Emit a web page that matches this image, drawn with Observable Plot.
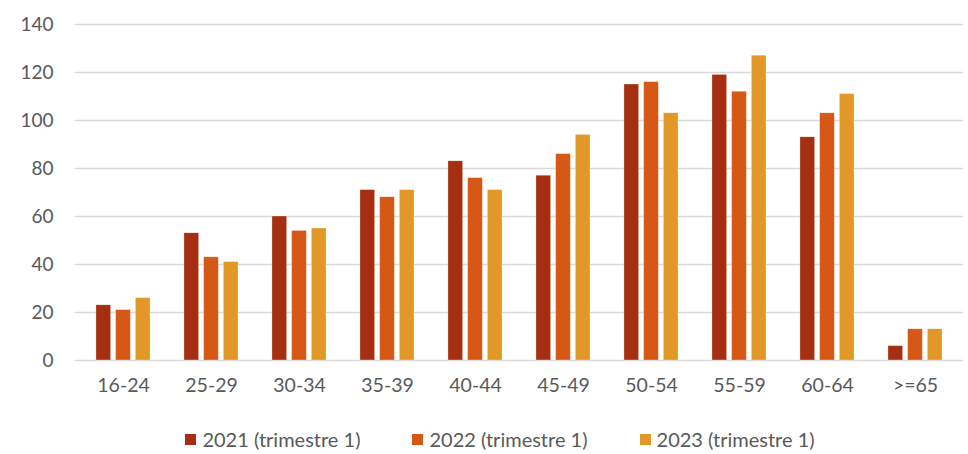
<!DOCTYPE html>
<html>
<head>
<meta charset="utf-8">
<script src="https://cdn.jsdelivr.net/npm/d3@7"></script>
<script src="https://cdn.jsdelivr.net/npm/@observablehq/plot@0.6"></script>
<style>
  html, body { margin: 0; padding: 0; background: #fff; }
  body { width: 968px; height: 454px; overflow: hidden; font-family: Lato, "Open Sans", sans-serif; }
  #chart svg { display: block; }
  #legend { display: flex; justify-content: center; gap: 52px; font-size: 20px; color: #595959; margin-top: 27px; padding-left: 32px; }
  #legend span.item { display: flex; align-items: center; gap: 6px; }
  #legend span.sw { display: inline-block; width: 11px; height: 11px; }
</style>
</head>
<body>
<div id="chart"></div>
<div id="legend"></div>
<script>
const categories = ["16-24","25-29","30-34","35-39","40-44","45-49","50-54","55-59","60-64",">=65"];
const series = ["2021 (trimestre 1)","2022 (trimestre 1)","2023 (trimestre 1)"];
const v2021 = [23, 53, 60, 71, 83, 77, 115, 119, 93, 6];
const v2022 = [21, 43, 54, 68, 76, 86, 116, 112, 103, 13];
const v2023 = [26, 41, 55, 71, 71, 94, 103, 127, 111, 13];
const colors = ["#A52F10", "#D55817", "#E19826"];
const yTicks = [0, 20, 40, 60, 80, 100, 120, 140];

const values = [v2021, v2022, v2023];

const W = 968, mL = 75, mR = 5;
const step = (W - mL - mR) / categories.length;
const barW = 15.5, barStep = 19.7;

const barMarks = series.map((s, j) => {
  const d = categories.map((c, i) => ({cat: c, series: s, value: values[j][i]}));
  const off = (j - 1) * barStep;
  const side = (step - barW) / 2;
  return Plot.barY(d, {
    x: "cat", y: "value", fill: colors[j],
    insetLeft: side + off, insetRight: side - off,
    stroke: "#fff", strokeWidth: 0.5, strokeOpacity: 0.6
  });
});

const chart = Plot.plot({
  width: W,
  height: 400,
  marginTop: 24,
  marginBottom: 40,
  marginLeft: mL,
  marginRight: mR,
  style: {fontFamily: "Lato, 'Open Sans', sans-serif", fontSize: "19px", color: "#595959", background: "#fff"},
  x: {domain: categories, padding: 0, label: null},
  y: {domain: [0, 140], label: null},
  marks: [
    Plot.ruleY(yTicks, {stroke: "#d9d9d9", strokeWidth: 1.5}),
    Plot.axisY(yTicks, {tickSize: 0, tickPadding: 22, fontSize: 19, fill: "#595959", label: null}),
    Plot.axisX({tickSize: 0, tickPadding: 18, fontSize: 19.5, fill: "#595959", label: null}),
    ...barMarks
  ]
});
document.getElementById("chart").appendChild(chart);

const legend = document.getElementById("legend");
series.forEach((s, i) => {
  const item = document.createElement("span");
  item.className = "item";
  const sw = document.createElement("span");
  sw.className = "sw";
  sw.style.background = colors[i];
  item.appendChild(sw);
  const t = document.createElement("span");
  t.textContent = s;
  item.appendChild(t);
  legend.appendChild(item);
});
</script>
</body>
</html>
